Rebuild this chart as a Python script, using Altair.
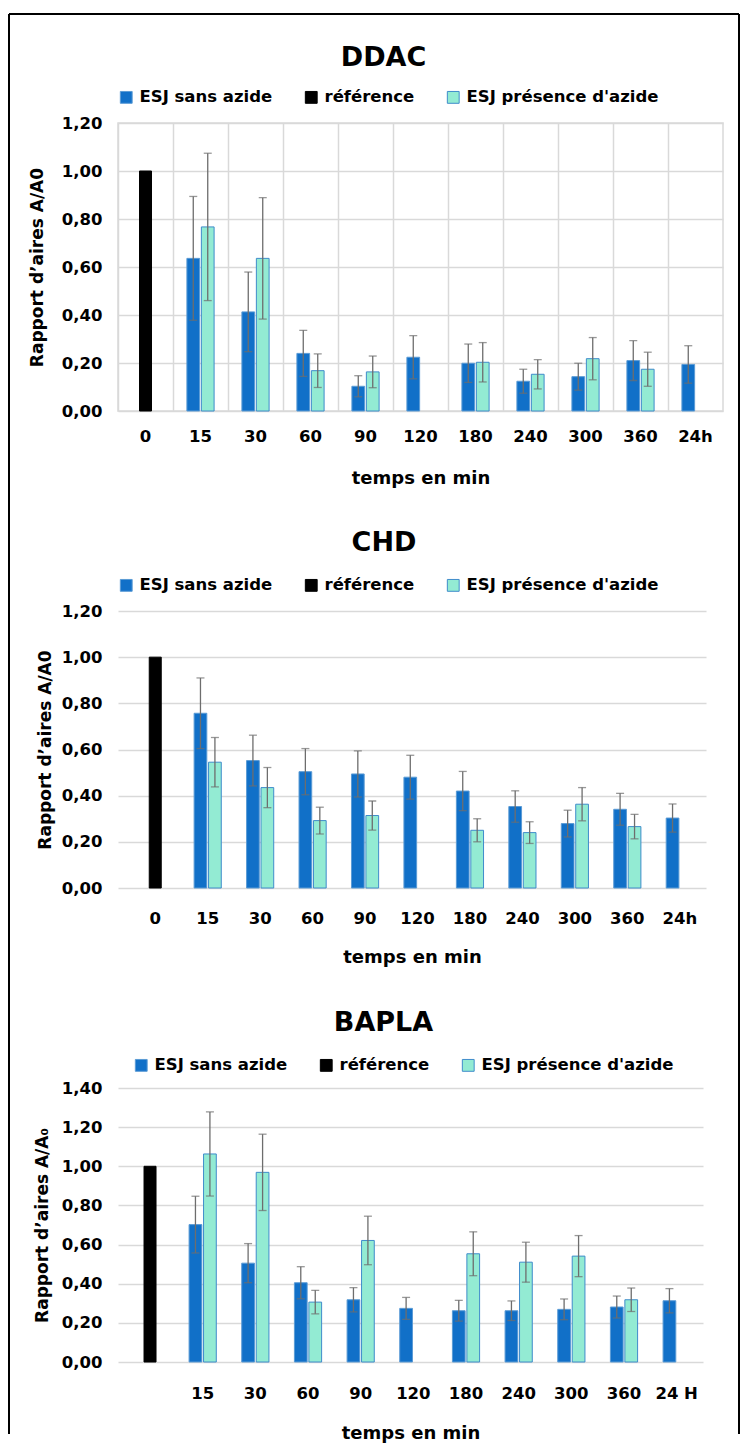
import altair as alt
import pandas as pd

FONT = "DejaVu Sans"
SERIES = ["ESJ sans azide", "référence", "ESJ présence d'azide"]
FILLS = ["#1170c8", "#000000", "#93ebd3"]
STROKES = ["#5b9bd5", "#000000", "#3f8ccb"]
ERR_COLOR = "#6d6d6d"
GRID = "#d9d9d9"

CATS = ["0", "15", "30", "60", "90", "120", "180", "240", "300", "360", "24h"]
CATS_BAPLA = ["0", "15", "30", "60", "90", "120", "180", "240", "300", "360", "24 H"]
REF_VALUE = 1.0

DDAC_SANS = [None, 0.636, 0.413, 0.240, 0.103, 0.224, 0.199, 0.124, 0.143, 0.210, 0.194]
DDAC_SANS_ERR = [None, 0.258, 0.166, 0.096, 0.044, 0.090, 0.080, 0.050, 0.056, 0.083, 0.078]
DDAC_AZ = [None, 0.767, 0.636, 0.168, 0.163, None, 0.203, 0.153, 0.218, 0.174, None]
DDAC_AZ_ERR = [None, 0.307, 0.253, 0.070, 0.066, None, 0.082, 0.061, 0.088, 0.071, None]

CHD_SANS = [None, 0.757, 0.552, 0.504, 0.494, 0.480, 0.420, 0.353, 0.279, 0.341, 0.303]
CHD_SANS_ERR = [None, 0.153, 0.110, 0.100, 0.100, 0.095, 0.085, 0.068, 0.058, 0.069, 0.061]
CHD_AZ = [None, 0.545, 0.435, 0.292, 0.314, None, 0.250, 0.240, 0.363, 0.266, None]
CHD_AZ_ERR = [None, 0.107, 0.087, 0.058, 0.063, None, 0.050, 0.047, 0.072, 0.053, None]

BAPLA_SANS = [None, 0.702, 0.505, 0.405, 0.318, 0.274, 0.262, 0.262, 0.269, 0.281, 0.313]
BAPLA_SANS_ERR = [None, 0.145, 0.100, 0.082, 0.062, 0.056, 0.053, 0.050, 0.053, 0.056, 0.062]
BAPLA_AZ = [None, 1.063, 0.969, 0.306, 0.621, None, 0.553, 0.510, 0.541, 0.318, None]
BAPLA_AZ_ERR = [None, 0.215, 0.195, 0.060, 0.124, None, 0.112, 0.102, 0.105, 0.060, None]

Y_TICKS_12 = [0.0, 0.2, 0.4, 0.6, 0.8, 1.0, 1.2]
Y_TICKS_14 = [0.0, 0.2, 0.4, 0.6, 0.8, 1.0, 1.2, 1.4]


def build(cats, sans, sans_err, az, az_err):
    bars, errs = [], []
    bars.append({"cat": cats[0], "series": SERIES[1], "value": REF_VALUE})
    for i, c in enumerate(cats):
        for s, vals, es in ((SERIES[0], sans, sans_err), (SERIES[2], az, az_err)):
            v, e = vals[i], es[i]
            if v is None:
                continue
            bars.append({"cat": c, "series": s, "value": v})
            errs.append({"cat": c, "series": s, "lo": v - e, "hi": v + e})
    bdf = pd.DataFrame(bars)
    edf = pd.DataFrame(errs)
    cap = pd.concat([edf.assign(yv=edf["lo"]), edf.assign(yv=edf["hi"])])
    return bdf, edf, cap


def panel(title, cats, data, yticks, width, height, xpad, po, ytitle, ytitle_x,
          legend_x, legend_y, title_dx, title_off, label_pad, title_pad,
          vgrid=False, hide_first=False):
    bdf, edf, cap = data
    ymax = yticks[-1]
    xscale = alt.Scale(domain=cats, paddingInner=0, paddingOuter=xpad, align=1)
    label_expr = "datum.label == '0' ? '' : datum.label" if hide_first else "datum.label"
    xaxis = alt.Axis(
        title="temps en min", labelAngle=0, labelFont=FONT, labelFontSize=16.5,
        labelFontWeight="bold", labelColor="#000000", labelPadding=label_pad,
        titleFont=FONT, titleFontSize=18, titleFontWeight="bold", titleColor="#000000",
        titlePadding=title_pad, ticks=False, domain=False, grid=vgrid, gridColor=GRID,
        gridWidth=1.5, bandPosition=0, labelExpr=label_expr,
    )
    yaxis = alt.Axis(
        title=ytitle, values=yticks, tickCount=len(yticks), labelOverlap=False,
        labelExpr="replace(format(datum.value, '.2f'), '.', ',')",
        labelFont=FONT, labelFontSize=16.5, labelFontWeight="bold", labelColor="#000000",
        labelPadding=16, ticks=False, domain=False, gridColor=GRID, gridWidth=1.5,
        titleFont=FONT, titleFontSize=17, titleFontWeight="bold", titleColor="#000000",
        titleAngle=270, titleX=ytitle_x, titleY=height / 2, titleAlign="center",
        titleBaseline="middle",
    )
    yscale = alt.Scale(domain=[0, ymax], nice=False)
    x = alt.X("cat:N", sort=cats, scale=xscale, axis=xaxis)
    y = alt.Y("value:Q", scale=yscale, axis=yaxis)
    xoff = alt.XOffset("series:N", scale=alt.Scale(domain=[SERIES[0], SERIES[2]],
                                                    paddingInner=0.12, paddingOuter=po))
    fill = alt.Fill("series:N", scale=alt.Scale(domain=SERIES, range=FILLS),
                    legend=alt.Legend(
                        title=None, orient="none", legendX=legend_x, legendY=legend_y,
                        direction="horizontal", symbolType="square", symbolSize=140,
                        symbolStrokeWidth=1, labelFont=FONT, labelFontSize=16.5,
                        labelFontWeight="bold", labelColor="#000000", labelOffset=5,
                        labelLimit=0, columnPadding=30))
    stroke = alt.Stroke("series:N", scale=alt.Scale(domain=SERIES, range=STROKES))

    main = bdf[bdf["series"] != SERIES[1]]
    ref = bdf[bdf["series"] == SERIES[1]]
    bars = alt.Chart(main).mark_bar(strokeWidth=1).encode(
        x=x, y=y, xOffset=xoff, fill=fill, stroke=stroke)
    refbar = alt.Chart(ref).mark_bar(size=12, strokeWidth=1).encode(
        x=x, y=y, fill=fill, stroke=stroke)
    rules = alt.Chart(edf).mark_rule(color=ERR_COLOR, strokeWidth=1.3).encode(
        x=x, xOffset=xoff, y=alt.Y("lo:Q", scale=yscale, axis=yaxis), y2="hi:Q")
    caps = alt.Chart(cap).mark_tick(color=ERR_COLOR, size=8, thickness=1.3).encode(
        x=x, xOffset=xoff, y=alt.Y("yv:Q", scale=yscale, axis=yaxis))
    view = alt.ViewBackground(stroke=GRID if vgrid else "transparent", strokeWidth=1.5)
    return alt.layer(bars, refbar, rules, caps).properties(
        width=width, height=height, view=view,
        title=alt.TitleParams(title, font=FONT, fontSize=27, fontWeight="bold",
                              color="#000000", anchor="middle", dx=title_dx,
                              offset=title_off),
    )


ddac = panel("DDAC", CATS, build(CATS, DDAC_SANS, DDAC_SANS_ERR, DDAC_AZ, DDAC_AZ_ERR),
             Y_TICKS_12, 605, 288, 0, 0.96, "Rapport d’aires A/A0", -81, 0, -34, -37,
             17, 17, 25, vgrid=True)
chd = panel("CHD", CATS, build(CATS, CHD_SANS, CHD_SANS_ERR, CHD_AZ, CHD_AZ_ERR),
            Y_TICKS_12, 588, 277, 0.105, 0.875, "Rapport d’aires A/A0", -73, 0, -34, -28,
            20, 22, 22)
bapla = panel("BAPLA", CATS_BAPLA,
              build(CATS_BAPLA, BAPLA_SANS, BAPLA_SANS_ERR, BAPLA_AZ, BAPLA_AZ_ERR),
              Y_TICKS_14, 585, 274, 0.054, 0.88, "Rapport d’aires A/A₀", -76, 15, -31, -27,
              20, 23, 23, hide_first=True)

# outer frame drawn around the whole figure (decoration only)
fdf = pd.DataFrame({"k": [0]})
frame = alt.layer(
    alt.Chart(fdf).mark_rule(color="black", strokeWidth=2).encode(
        x=alt.value(-109), y=alt.value(-108), y2=alt.value(1312)),
    alt.Chart(fdf).mark_rule(color="black", strokeWidth=2).encode(
        x=alt.value(-109), x2=alt.value(621), y=alt.value(-108)),
    alt.Chart(fdf).mark_rule(color="black", strokeWidth=2).encode(
        x=alt.value(621), y=alt.value(-108), y2=alt.value(1312)),
).properties(width=605, height=1, view=alt.ViewBackground(stroke="transparent"))

panels = alt.vconcat(ddac, chd, bapla, spacing=200, bounds="flush").resolve_scale(
    x="independent", y="independent", fill="independent", stroke="independent",
    xOffset="independent"
)

chart = alt.vconcat(frame, panels, spacing=0, bounds="flush").properties(
    padding={"left": 0, "top": 5, "right": 0, "bottom": 0}
).configure_view(strokeWidth=0)

chart.save("out.html", embed_options={"renderer": "svg", "actions": False})
